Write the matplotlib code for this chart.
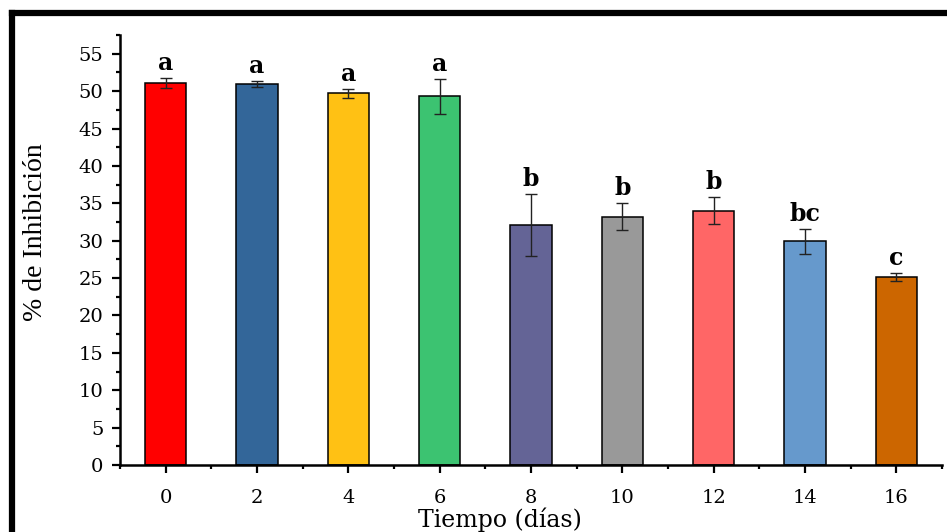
import matplotlib
matplotlib.use('Agg')
import matplotlib.pyplot as plt
from matplotlib.lines import Line2D
from matplotlib.ticker import MultipleLocator

# data
dias = [0, 2, 4, 6, 8, 10, 12, 14, 16]
inhibicion = [51.1, 51.0, 49.7, 49.3, 32.1, 33.2, 34.0, 29.9, 25.1]
error = [0.65, 0.4, 0.6, 2.35, 4.2, 1.8, 1.8, 1.65, 0.55]
letras = ['a', 'a', 'a', 'a', 'b', 'b', 'b', 'bc', 'c']
colores = ['#FF0000', '#336699', '#FFC114', '#3CC371', '#646496',
           '#999999', '#FF6666', '#6699CC', '#CC6600']

plt.rcParams['font.family'] = ['DejaVu Serif']

fig = plt.figure(figsize=(9.47, 5.32), dpi=100)
ax = fig.add_axes([0.1267, 0.126, 0.868, 0.808])

ax.bar(dias, inhibicion, width=0.9, color=colores, edgecolor='black', linewidth=1.1, zorder=2)
ax.errorbar(dias, inhibicion, yerr=error, fmt='none', ecolor='#222222',
            elinewidth=1.0, capsize=4.5, capthick=1.0, zorder=3)

for x, y, e, t in zip(dias, inhibicion, error, letras):
    ax.text(x, y + e + 0.4, t, ha='center', va='bottom', fontsize=17, fontweight='bold')

ax.set_xlim(-1, 17)
ax.set_ylim(0, 57.5)
ax.set_xticks(dias)
ax.xaxis.set_minor_locator(MultipleLocator(1))
ax.yaxis.set_major_locator(MultipleLocator(5))
ax.yaxis.set_minor_locator(MultipleLocator(2.5))

for s in ['top', 'right']:
    ax.spines[s].set_visible(False)
for s in ['left', 'bottom']:
    ax.spines[s].set_linewidth(1.8)

ax.tick_params(axis='both', which='major', direction='out', length=6, width=1.6, labelsize=14)
ax.tick_params(axis='x', which='major', pad=11)
ax.tick_params(axis='y', which='major', pad=6)
ax.tick_params(axis='both', which='minor', direction='out', length=3, width=1.6)

ax.set_xlabel('Tiempo (días)', fontsize=17)
ax.xaxis.set_label_coords(0.462, -0.098)
ax.set_ylabel('% de Inhibición', fontsize=20, family='Liberation Serif')
ax.yaxis.set_label_coords(-0.087, 0.542)

# thick frame at the top and left of the figure
fig.add_artist(Line2D([12 / 947, 1.0], [1 - 13 / 532, 1 - 13 / 532], color='black', linewidth=4.5))
fig.add_artist(Line2D([12 / 947, 12 / 947], [0.0, 1 - 13 / 532], color='black', linewidth=4.5))

fig.savefig('out.png', dpi=100)
